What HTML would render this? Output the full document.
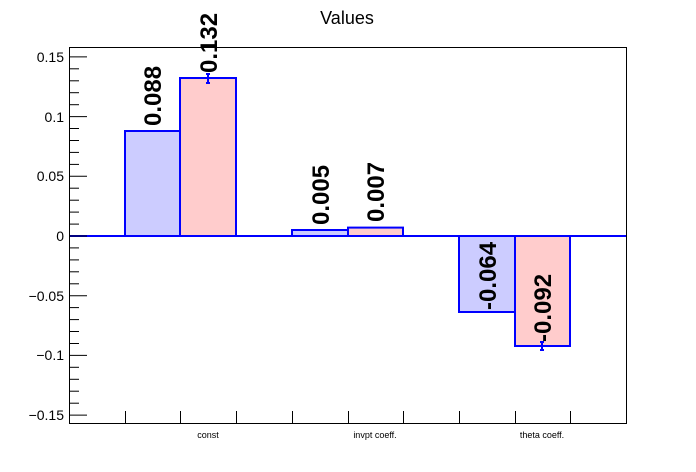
<!DOCTYPE html>
<html><head><meta charset="utf-8"><style>body{margin:0;background:#fff}svg{display:block}</style></head>
<body>
<svg width="696" height="472" xmlns="http://www.w3.org/2000/svg" font-family="Liberation Sans, sans-serif">
<rect width="696" height="472" fill="#fff"/>
<text x="347" y="24" font-size="18" text-anchor="middle">Values</text>
<g stroke="#0000ff" stroke-width="2">
<rect x="125" y="131" width="55" height="105" fill="#ccccff"/>
<rect x="180" y="78" width="56" height="158" fill="#ffcccc"/>
<rect x="292" y="230" width="56" height="6" fill="#ccccff"/>
<rect x="348" y="227.6" width="55" height="8.4" fill="#ffcccc"/>
<rect x="459" y="236" width="56" height="76" fill="#ccccff"/>
<rect x="515" y="236" width="55" height="110" fill="#ffcccc"/>
<line x1="69" y1="236" x2="627" y2="236"/>
<line x1="208" y1="74" x2="208" y2="83"/><line x1="206" y1="74" x2="210" y2="74"/><line x1="206" y1="83" x2="210" y2="83"/>
<line x1="542" y1="342" x2="542" y2="350"/><line x1="540" y1="342" x2="544" y2="342"/><line x1="540" y1="350" x2="544" y2="350"/>
</g>
<g font-size="24" font-weight="bold" fill="#000">
<text transform="translate(161,126) rotate(-90)">0.088</text>
<text transform="translate(217,73) rotate(-90)">0.132</text>
<text transform="translate(329,225) rotate(-90)">0.005</text>
<text transform="translate(384,222) rotate(-90)">0.007</text>
<text transform="translate(496,310) rotate(-90)">-0.064</text>
<text transform="translate(551,342) rotate(-90)">-0.092</text>
</g>
<rect x="69.5" y="47.5" width="557" height="376" fill="none" stroke="#000" stroke-width="1"/>
<g stroke="#000" stroke-width="1">
<line x1="70" x2="87" y1="56.9" y2="56.9"/>
<line x1="70" x2="79" y1="68.8" y2="68.8"/>
<line x1="70" x2="79" y1="80.8" y2="80.8"/>
<line x1="70" x2="79" y1="92.7" y2="92.7"/>
<line x1="70" x2="79" y1="104.7" y2="104.7"/>
<line x1="70" x2="87" y1="116.6" y2="116.6"/>
<line x1="70" x2="79" y1="128.5" y2="128.5"/>
<line x1="70" x2="79" y1="140.5" y2="140.5"/>
<line x1="70" x2="79" y1="152.4" y2="152.4"/>
<line x1="70" x2="79" y1="164.4" y2="164.4"/>
<line x1="70" x2="87" y1="176.3" y2="176.3"/>
<line x1="70" x2="79" y1="188.2" y2="188.2"/>
<line x1="70" x2="79" y1="200.2" y2="200.2"/>
<line x1="70" x2="79" y1="212.1" y2="212.1"/>
<line x1="70" x2="79" y1="224.1" y2="224.1"/>
<line x1="70" x2="87" y1="236" y2="236"/>
<line x1="70" x2="79" y1="247.9" y2="247.9"/>
<line x1="70" x2="79" y1="259.9" y2="259.9"/>
<line x1="70" x2="79" y1="271.8" y2="271.8"/>
<line x1="70" x2="79" y1="283.8" y2="283.8"/>
<line x1="70" x2="87" y1="295.7" y2="295.7"/>
<line x1="70" x2="79" y1="307.6" y2="307.6"/>
<line x1="70" x2="79" y1="319.6" y2="319.6"/>
<line x1="70" x2="79" y1="331.5" y2="331.5"/>
<line x1="70" x2="79" y1="343.5" y2="343.5"/>
<line x1="70" x2="87" y1="355.4" y2="355.4"/>
<line x1="70" x2="79" y1="367.3" y2="367.3"/>
<line x1="70" x2="79" y1="379.3" y2="379.3"/>
<line x1="70" x2="79" y1="391.2" y2="391.2"/>
<line x1="70" x2="79" y1="403.2" y2="403.2"/>
<line x1="70" x2="87" y1="415.1" y2="415.1"/>
<line x1="125.5" x2="125.5" y1="423" y2="411"/>
<line x1="180.5" x2="180.5" y1="423" y2="411"/>
<line x1="236.5" x2="236.5" y1="423" y2="411"/>
<line x1="292.5" x2="292.5" y1="423" y2="411"/>
<line x1="348.5" x2="348.5" y1="423" y2="411"/>
<line x1="403.5" x2="403.5" y1="423" y2="411"/>
<line x1="459.5" x2="459.5" y1="423" y2="411"/>
<line x1="515.5" x2="515.5" y1="423" y2="411"/>
<line x1="570.5" x2="570.5" y1="423" y2="411"/>
</g>
<g font-size="14" fill="#000" text-anchor="end">
<text x="64" y="62">0.15</text>
<text x="64" y="122">0.1</text>
<text x="64" y="181">0.05</text>
<text x="64" y="241">0</text>
<text x="64" y="301">−0.05</text>
<text x="64" y="360">−0.1</text>
<text x="64" y="420">−0.15</text>
</g>
<g font-size="9" fill="#000" text-anchor="middle">
<text x="208" y="438">const</text>
<text x="375" y="438">invpt coeff.</text>
<text x="542" y="438">theta coeff.</text>
</g>
</svg>
</body></html>
